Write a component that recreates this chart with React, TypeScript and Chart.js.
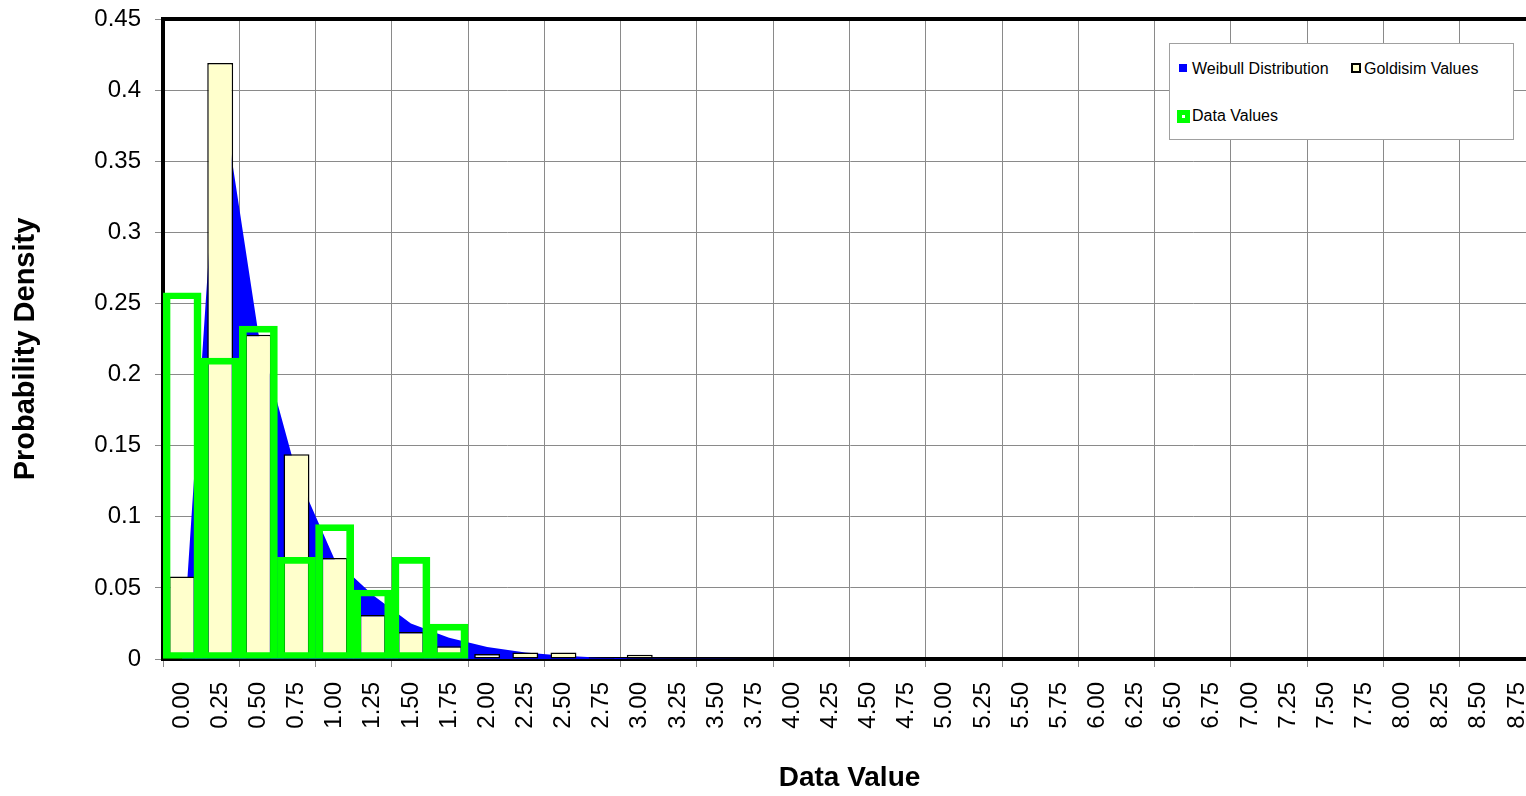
import React, { useEffect, useRef } from 'react';
import { Chart, registerables } from 'chart.js';

Chart.register(...registerables);

// ---------- data ----------
const categories = [
  '0.00', '0.25', '0.50', '0.75', '1.00', '1.25', '1.50', '1.75', '2.00',
  '2.25', '2.50', '2.75', '3.00', '3.25', '3.50', '3.75', '4.00', '4.25',
  '4.50', '4.75', '5.00', '5.25', '5.50', '5.75', '6.00', '6.25', '6.50',
  '6.75', '7.00', '7.25', '7.50', '7.75', '8.00', '8.25', '8.50', '8.75',
];

const weibullDistribution = [
  0, 0.405, 0.229, 0.131, 0.07, 0.045, 0.025, 0.015, 0.0085, 0.0046, 0.0022,
  0.0009, 0.0004, 0.0002, 0.0001, 0, 0, 0, 0, 0, 0, 0, 0, 0, 0, 0, 0, 0, 0, 0,
  0, 0, 0, 0, 0, 0,
];

const goldisimValues = [
  0.058, 0.419, 0.228, 0.144, 0.071, 0.031, 0.019, 0.009, 0.0035, 0.0045,
  0.0045, 0.0012, 0.003, null, null, null, null, null, null, null, null, null,
  null, null, null, null, null, null, null, null, null, null, null, null, null,
  null,
];

const dataValues = [
  0.2575, 0.2115, 0.234, 0.0715, 0.0945, 0.0485, 0.0715, 0.0245, null, null,
  null, null, null, null, null, null, null, null, null, null, null, null, null,
  null, null, null, null, null, null, null, null, null, null, null, null, null,
];

const seriesLabels = ['Weibull Distribution', 'Goldisim Values', 'Data Values'];
const xTitle = 'Data Value';
const yTitle = 'Probability Density';
const yMin = 0;
const yMax = 0.45;
const yStep = 0.05;

// ---------- styling ----------
const FONT = "'Liberation Sans', Arial, sans-serif";
const GRID = '#8a8a8a';

const framePlugin = {
  id: 'frameAndTitle',
  afterDraw(chart: any) {
    const { ctx, chartArea } = chart;
    const { left, top, right, bottom } = chartArea;
    ctx.save();
    ctx.fillStyle = '#000';
    ctx.fillRect(left - 2, top - 2, right - left + 2, 4);
    ctx.translate(26, (top + bottom) / 2 + 10);
    ctx.rotate(-Math.PI / 2);
    ctx.font = `bold 29px ${FONT}`;
    ctx.textAlign = 'center';
    ctx.textBaseline = 'middle';
    ctx.fillText(yTitle, 0, 0);
    ctx.restore();
  },
};

export default function App() {
  const canvasRef = useRef<HTMLCanvasElement | null>(null);

  useEffect(() => {
    document.body.style.margin = '0';
    document.body.style.overflow = 'hidden';
    const canvas = canvasRef.current;
    if (!canvas) return;
    const chart = new Chart(canvas, {
      type: 'bar',
      data: {
        labels: categories,
        datasets: [
          {
            type: 'bar',
            label: seriesLabels[2],
            data: dataValues,
            backgroundColor: 'rgba(0,0,0,0)',
            borderColor: '#00FF00',
            borderWidth: { top: 6, bottom: 6, left: 7, right: 7 },
            borderSkipped: false,
            grouped: false,
            barPercentage: 1,
            categoryPercentage: 1,
            order: 1,
          } as any,
          {
            type: 'bar',
            label: seriesLabels[1],
            data: goldisimValues,
            backgroundColor: '#FFFFCC',
            borderColor: '#000000',
            borderWidth: 1.5,
            borderSkipped: false,
            grouped: false,
            barPercentage: 0.68,
            categoryPercentage: 1,
            order: 2,
          } as any,
          {
            type: 'line',
            label: seriesLabels[0],
            data: weibullDistribution,
            backgroundColor: '#0000FF',
            borderColor: 'rgba(0,0,0,0)',
            borderWidth: 0,
            pointRadius: 0,
            pointHoverRadius: 0,
            tension: 0,
            fill: 'origin',
            order: 3,
          } as any,
        ],
      },
      options: {
        animation: false,
        responsive: false,
        maintainAspectRatio: false,
        devicePixelRatio: 1,
        layout: { padding: { top: 19, left: 0, right: 0, bottom: 0 } },
        plugins: {
          legend: { display: false },
          tooltip: { enabled: false },
        },
        scales: {
          x: {
            type: 'category',
            offset: true,
            afterFit: (scale: any) => {
              scale.height = 137;
              scale.paddingLeft = 0;
              scale.paddingRight = 0;
            },
            grid: {
              offset: true,
              color: (ctx: any) => (ctx.index % 2 === 0 ? GRID : 'rgba(0,0,0,0)'),
              lineWidth: 1,
              drawTicks: true,
              tickLength: 8,
            },
            border: { color: '#000', width: 4 },
            ticks: {
              autoSkip: false,
              minRotation: 90,
              maxRotation: 90,
              padding: 15,
              color: '#000',
              font: { family: FONT, size: 24 },
            },
            title: {
              display: true,
              text: xTitle,
              color: '#000',
              font: { family: FONT, size: 28, weight: 'bold' },
              padding: { top: 0, bottom: 1 },
            },
          },
          y: {
            type: 'linear',
            min: yMin,
            max: yMax,
            afterFit: (scale: any) => {
              scale.width = 163;
              scale.paddingTop = 0;
              scale.paddingBottom = 0;
            },
            grid: {
              color: GRID,
              lineWidth: 1,
              drawTicks: true,
              tickLength: 8,
            },
            border: { color: '#000', width: 4 },
            ticks: {
              stepSize: yStep,
              padding: 14,
              color: '#000',
              font: { family: FONT, size: 24 },
              callback: (v: any) => String(Math.round(Number(v) * 100) / 100),
            },
          },
        },
      },
      plugins: [framePlugin],
    } as any);
    return () => chart.destroy();
  }, []);

  const textStyle: React.CSSProperties = {
    position: 'absolute',
    fontFamily: FONT,
    fontSize: 16,
    lineHeight: '18px',
    color: '#000',
    whiteSpace: 'nowrap',
  };

  return (
    <div style={{ position: 'relative', width: 1526, height: 796, overflow: 'hidden', background: '#fff' }}>
      <canvas ref={canvasRef} width={1536} height={796} style={{ position: 'absolute', left: 0, top: 0, width: 1536, height: 796 }} />
      <div
        style={{
          position: 'absolute',
          left: 1169,
          top: 43,
          width: 345,
          height: 97,
          boxSizing: 'border-box',
          background: '#fff',
          border: '1px solid #a0a0a0',
        }}
      />
      <div style={{ position: 'absolute', left: 1179, top: 64, width: 8, height: 8, background: '#0000FF' }} />
      <div style={{ ...textStyle, left: 1192, top: 60 }}>{seriesLabels[0]}</div>
      <div
        style={{
          position: 'absolute',
          left: 1351,
          top: 63,
          width: 10,
          height: 10,
          boxSizing: 'border-box',
          background: '#FFFFCC',
          border: '2px solid #000',
        }}
      />
      <div style={{ ...textStyle, left: 1364, top: 60 }}>{seriesLabels[1]}</div>
      <div
        style={{
          position: 'absolute',
          left: 1177,
          top: 110,
          width: 13,
          height: 13,
          boxSizing: 'border-box',
          background: '#fff',
          border: '5px solid #00FF00',
        }}
      />
      <div style={{ ...textStyle, left: 1192, top: 107 }}>{seriesLabels[2]}</div>
    </div>
  );
}
